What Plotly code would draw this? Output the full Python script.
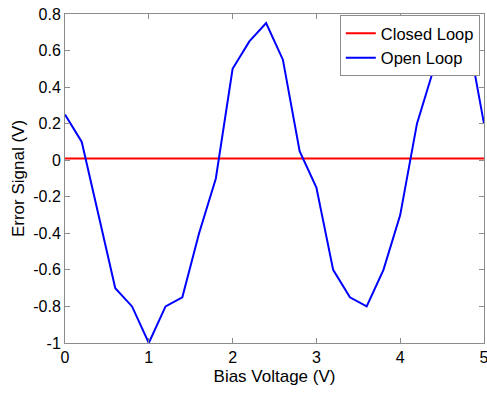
import plotly.graph_objects as go

bias_v = [0.0, 0.2, 0.4, 0.6, 0.8, 1.0, 1.2, 1.4, 1.6, 1.8, 2.0, 2.2, 2.4, 2.6, 2.8,
          3.0, 3.2, 3.4, 3.6, 3.8, 4.0, 4.2, 4.4, 4.6, 4.8, 5.0]
open_loop = [0.25, 0.10, -0.30, -0.70, -0.80, -1.00, -0.80, -0.75, -0.40, -0.10, 0.50, 0.65,
             0.75, 0.55, 0.05, -0.15, -0.60, -0.75, -0.80, -0.60, -0.30, 0.20, 0.50, 0.70,
             0.70, 0.20]
closed_loop = [0.01] * len(bias_v)

x_ticks = [0, 1, 2, 3, 4, 5]
x_labels = ["0", "1", "2", "3", "4", "5"]
y_ticks = [-1, -0.8, -0.6, -0.4, -0.2, 0, 0.2, 0.4, 0.6, 0.8]
y_labels = ["-1", "-0.8", "-0.6", "-0.4", "-0.2", "0", "0.2", "0.4", "0.6", "0.8"]

fig = go.Figure()
fig.add_trace(go.Scatter(x=bias_v, y=closed_loop, mode="lines", name="Closed Loop",
                         line=dict(color="#ff0000", width=2)))
fig.add_trace(go.Scatter(x=bias_v, y=open_loop, mode="lines", name="Open Loop",
                         line=dict(color="#0000ff", width=2)))

axis_common = dict(showline=True, linecolor="#8c8c8c", linewidth=1, mirror="ticks",
                   ticks="inside", ticklen=5, tickcolor="#8c8c8c", showgrid=False,
                   zeroline=False, tickfont=dict(size=16, color="black"),
                   ticklabeloverflow="allow", automargin=False)

fig.update_layout(
    width=487, height=395,
    margin=dict(l=65, r=3, t=14, b=52),
    paper_bgcolor="white", plot_bgcolor="white",
    font=dict(family="Liberation Sans, Arial, sans-serif", color="black"),
    xaxis=dict(range=[0, 5], tickvals=x_ticks, ticktext=x_labels,
               title=dict(text="Bias Voltage (V)", font=dict(size=17), standoff=4),
               **axis_common),
    yaxis=dict(range=[-1, 0.8], tickvals=y_ticks, ticktext=y_labels,
               title=dict(text="Error Signal (V)", font=dict(size=17), standoff=4),
               **axis_common),
    legend=dict(x=0.99, y=0.997, xanchor="right", yanchor="top",
                bgcolor="white", bordercolor="#8c8c8c", borderwidth=1,
                font=dict(size=16.5), tracegroupgap=0, itemwidth=30),
    showlegend=True,
)

fig.write_html("out.html", config={"displayModeBar": False},
               post_script="document.body.style.margin='0';")
